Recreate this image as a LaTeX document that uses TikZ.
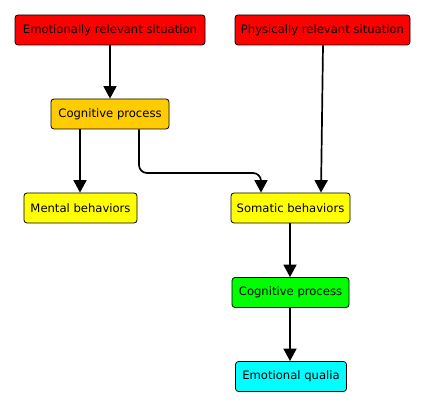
\documentclass[tikz,border=0pt]{standalone}
\usepackage{fontspec}
\setmainfont{DejaVu Sans}
\usetikzlibrary{arrows.meta}
\begin{document}
\begin{tikzpicture}[x=1pt,y=-1pt,
  box/.style={draw=black, line width=0.8pt, rounded corners=3pt, inner sep=0pt,
    minimum height=30pt, font=\fontsize{11.6}{13}\selectfont},
  conn/.style={line width=1.7pt, -{Triangle[width=13pt,length=12.5pt]}}]
\useasboundingbox (0,0) rectangle (426,406);
\node[box, fill={rgb,255:red,255;green,0;blue,0}, minimum width=190pt] (ers) at (110,30) {Emotionally relevant situation};
\node[box, fill={rgb,255:red,255;green,0;blue,0}, minimum width=175pt] (prs) at (322.5,30) {Physically relevant situation};
\node[box, fill={rgb,255:red,255;green,204;blue,0}, minimum width=118pt] (cp1) at (110,114) {Cognitive process};
\node[box, fill={rgb,255:red,255;green,255;blue,0}, minimum width=113pt] (mb) at (80.5,208) {Mental behaviors};
\node[box, fill={rgb,255:red,255;green,255;blue,0}, minimum width=119pt] (sb) at (290.5,208) {Somatic behaviors};
\node[box, fill={rgb,255:red,0;green,255;blue,0}, minimum width=117pt] (cp2) at (290.5,292.5) {Cognitive process};
\node[box, fill={rgb,255:red,0;green,255;blue,255}, minimum width=111pt] (eq) at (291,376.5) {Emotional qualia};
\coordinate (k1) at (139,173);
\coordinate (k2) at (261,173);
\coordinate (m1) at (80,0);
\coordinate (s1) at (290,0);
\draw[conn] (ers) -- (cp1);
\draw[conn] (cp1.south -| m1) -- (mb.north -| m1);
\draw[conn, rounded corners=8pt] (cp1.south -| k1) -- (k1) -- (k2) -- (k2 |- sb.north);
\draw[conn] ([xshift=0.5pt]prs.south) -- (sb.north -| 321,0);
\draw[conn] (sb.south -| s1) -- (cp2.north -| s1);
\draw[conn] (cp2.south -| s1) -- (eq.north -| s1);
\end{tikzpicture}
\end{document}
